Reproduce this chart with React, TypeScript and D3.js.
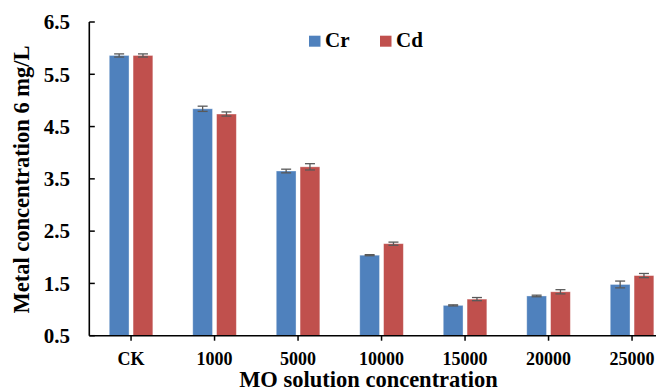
import React from "react";
import * as d3 from "d3";

const categories = ["CK", "1000", "5000", "10000", "15000", "20000", "25000"];
const seriesNames = ["Cr", "Cd"];
const crValues = [5.86, 4.84, 3.65, 2.04, 1.08, 1.26, 1.48];
const cdValues = [5.86, 4.74, 3.73, 2.26, 1.2, 1.34, 1.65];
const crErrors = [0.03, 0.05, 0.035, 0.01, 0.01, 0.015, 0.065];
const cdErrors = [0.03, 0.04, 0.06, 0.03, 0.03, 0.04, 0.04];
const yTicks = [0.5, 1.5, 2.5, 3.5, 4.5, 5.5, 6.5];
const colors = ["#4F81BD", "#C0504D"];

const W = 656;
const H = 391;
const FONT = "'Liberation Serif', 'DejaVu Serif', serif";

export default function App() {
  const x0 = 89.3;
  const step = 83.5;
  const x = d3
    .scaleBand<string>()
    .domain(categories)
    .range([x0, x0 + step * categories.length])
    .paddingInner(0.478)
    .paddingOuter(0.239);
  const xs = d3
    .scaleBand<string>()
    .domain(seriesNames)
    .range([0, x.bandwidth()])
    .paddingInner(0.17);
  const y = d3.scaleLinear().domain([0.5, 6.5]).range([335.7, 22]);

  const values = [crValues, cdValues];
  const errors = [crErrors, cdErrors];

  return (
    <svg
      width={W}
      height={H}
      style={{ position: "absolute", left: 0, top: 0, background: "#fff" }}
      fontFamily={FONT}
    >
      {/* bars */}
      {seriesNames.map((s, si) =>
        categories.map((c, ci) => {
          const v = values[si][ci];
          const bx = (x(c) as number) + (xs(s) as number);
          return (
            <rect
              key={s + c}
              x={bx}
              y={y(v)}
              width={xs.bandwidth()}
              height={y(0.5) - y(v)}
              fill={colors[si]}
              stroke="#ffffff"
              strokeOpacity={0.45}
              strokeWidth={0.8}
            />
          );
        })
      )}
      {/* error bars */}
      {seriesNames.map((s, si) =>
        categories.map((c, ci) => {
          const v = values[si][ci];
          const e = errors[si][ci];
          const cx = (x(c) as number) + (xs(s) as number) + xs.bandwidth() / 2;
          const cw = 5;
          return (
            <g key={"e" + s + c} stroke="#595959" strokeWidth={1.3}>
              <line x1={cx} x2={cx} y1={y(v + e)} y2={y(v - e)} />
              <line x1={cx - cw} x2={cx + cw} y1={y(v + e)} y2={y(v + e)} />
              <line x1={cx - cw} x2={cx + cw} y1={y(v - e)} y2={y(v - e)} />
            </g>
          );
        })
      )}
      {/* y axis */}
      <line x1={x0} x2={x0} y1={y(6.5)} y2={y(0.5)} stroke="#000" strokeWidth={1.6} />
      {yTicks.map((t) => (
        <g key={"yt" + t}>
          <line x1={x0} x2={x0 + 5.5} y1={y(t)} y2={y(t)} stroke="#000" strokeWidth={1.5} />
          <text
            x={70}
            y={y(t)}
            dy="0.35em"
            textAnchor="end"
            fontSize={21}
            fontWeight="bold"
          >
            {t.toFixed(1)}
          </text>
        </g>
      ))}
      {/* x axis */}
      <line x1={x0} x2={W} y1={y(0.5)} y2={y(0.5)} stroke="#000" strokeWidth={1.6} />
      {categories.map((c) => {
        const cx = (x(c) as number) + x.bandwidth() / 2;
        return (
          <g key={"xt" + c}>
            <line x1={cx} x2={cx} y1={y(0.5)} y2={y(0.5) + 5} stroke="#000" strokeWidth={1.5} />
            <text x={cx} y={364.5} textAnchor="middle" fontSize={18} fontWeight="bold">
              {c}
            </text>
          </g>
        );
      })}
      {/* axis titles */}
      <text x={368.5} y={387} textAnchor="middle" fontSize={22.5} fontWeight="bold">
        MO solution concentration
      </text>
      <text
        transform={`translate(29, 179.5) rotate(-90)`}
        textAnchor="middle"
        fontSize={22.5}
        fontWeight="bold"
      >
        Metal concentration 6 mg/L
      </text>
      {/* legend */}
      {seriesNames.map((s, si) => {
        const lx = si === 0 ? 309 : 380;
        return (
          <g key={"lg" + s}>
            <rect x={lx} y={35.7} width={11.5} height={11} fill={colors[si]} />
            <text x={lx + 16} y={46.7} fontSize={21} fontWeight="bold">
              {s}
            </text>
          </g>
        );
      })}
    </svg>
  );
}
